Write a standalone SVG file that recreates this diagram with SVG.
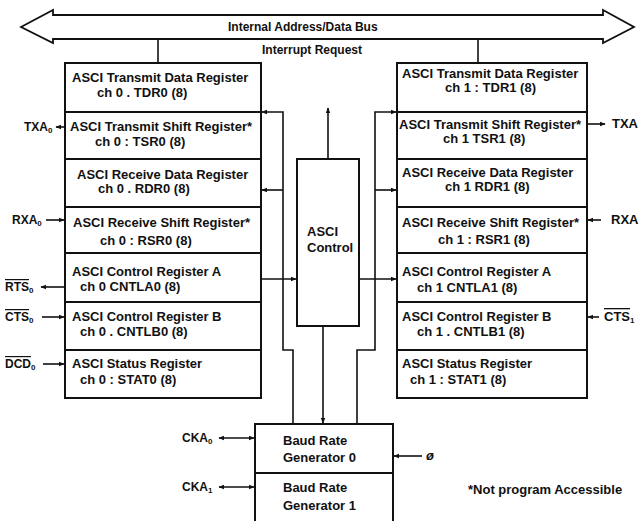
<svg xmlns="http://www.w3.org/2000/svg" width="640" height="521" viewBox="0 0 640 521">
<style>
.box{fill:#fff;stroke:#111;stroke-width:2}
.ln{fill:none;stroke:#111;stroke-width:1.6}
text{font-family:"Liberation Sans",Arial,sans-serif;font-weight:bold;font-size:13px;fill:#111}
.sm{font-size:12px}
.ov{text-decoration:overline}
</style>
<defs>
<marker id="ah" viewBox="0 0 10 10" refX="9" refY="5" markerWidth="6" markerHeight="6" markerUnits="userSpaceOnUse" orient="auto-start-reverse">
<path d="M0,1 L10,5 L0,9 z" fill="#111"/>
</marker>
</defs>
<rect x="0" y="0" width="640" height="521" fill="#fff"/>

<g id="bus">
<polygon points="21,27 53,10 53,15 603,15 603,10 634,27 603,43 603,39 53,39 53,43" fill="#fff" stroke="#111" stroke-width="1.8" stroke-linejoin="miter"/>
<text x="228" y="31" class="sm">Internal Address/Data Bus</text>
</g>
<g id="irq"><text x="262" y="54" class="sm">Interrupt Request</text></g>

<g id="connectors">
<path class="ln" d="M158 39 V63"/>
<path class="ln" d="M478 39 V63"/>
<path class="ln" d="M328 159 V108" marker-end="url(#ah)"/>
<path class="ln" d="M293 424 V350 H283 V112 H262" marker-end="url(#ah)"/>
<path class="ln" d="M283 190 H262" marker-end="url(#ah)"/>
<path class="ln" d="M357 424 V350 H375 V112 H396" marker-end="url(#ah)"/>
<path class="ln" d="M375 190 H396" marker-end="url(#ah)"/>
<path class="ln" d="M323 327 V423" marker-end="url(#ah)"/>
<path class="ln" d="M262 279 H296" marker-end="url(#ah)"/>
<path class="ln" d="M360 279 H396" marker-end="url(#ah)"/>
<path class="ln" d="M64 127 H56" marker-end="url(#ah)"/>
<path class="ln" d="M46 220 H64" marker-end="url(#ah)"/>
<path class="ln" d="M64 287 H41" marker-end="url(#ah)"/>
<path class="ln" d="M42 317 H64" marker-end="url(#ah)"/>
<path class="ln" d="M43 364 H64" marker-end="url(#ah)"/>
<path class="ln" d="M588 124 H605" marker-end="url(#ah)"/>
<path class="ln" d="M601 220 H588" marker-end="url(#ah)"/>
<path class="ln" d="M599 317 H588" marker-end="url(#ah)"/>
<path class="ln" d="M219 438 H254" marker-start="url(#ah)" marker-end="url(#ah)"/>
<path class="ln" d="M219 487 H254" marker-start="url(#ah)" marker-end="url(#ah)"/>
<path class="ln" d="M422 456 H394" marker-end="url(#ah)"/>
</g>

<g id="tdr0"><rect class="box" x="65" y="63" width="196" height="49"/><text x="72" y="82">ASCI Transmit Data Register</text><text x="97" y="97">ch 0 . TDR0 (8)</text></g>
<g id="tsr0"><rect class="box" x="65" y="112" width="196" height="47"/><text x="70" y="131">ASCI Transmit Shift Register*</text><text x="95" y="146">ch 0 : TSR0 (8)</text></g>
<g id="rdr0"><rect class="box" x="65" y="159" width="196" height="48"/><text x="77" y="179">ASCI Receive Data Register</text><text x="98" y="193">ch 0 . RDR0 (8)</text></g>
<g id="rsr0"><rect class="box" x="65" y="207" width="196" height="46"/><text x="73" y="227">ASCI Receive Shift Register*</text><text x="100" y="245">ch 0 : RSR0 (8)</text></g>
<g id="cntla0"><rect class="box" x="65" y="253" width="196" height="49"/><text x="72" y="276">ASCI Control Register A</text><text x="80" y="291">ch 0  CNTLA0 (8)</text></g>
<g id="cntlb0"><rect class="box" x="65" y="302" width="196" height="48"/><text x="72" y="321">ASCI Control Register B</text><text x="80" y="336">ch 0 . CNTLB0 (8)</text></g>
<g id="stat0"><rect class="box" x="65" y="350" width="196" height="48"/><text x="72" y="368">ASCI Status Register</text><text x="80" y="384">ch 0 : STAT0 (8)</text></g>

<g id="tdr1"><rect class="box" x="397" y="63" width="190" height="49"/><text x="402" y="78">ASCI Transmit Data Register</text><text x="445" y="92">ch 1 : TDR1 (8)</text></g>
<g id="tsr1"><rect class="box" x="397" y="112" width="190" height="47"/><text x="399" y="129">ASCI Transmit Shift Register*</text><text x="443" y="143">ch 1  TSR1 (8)</text></g>
<g id="rdr1"><rect class="box" x="397" y="159" width="190" height="48"/><text x="402" y="177">ASCI Receive Data Register</text><text x="445" y="191">ch 1  RDR1 (8)</text></g>
<g id="rsr1"><rect class="box" x="397" y="207" width="190" height="46"/><text x="402" y="227">ASCI Receive Shift Register*</text><text x="438" y="244">ch 1 : RSR1 (8)</text></g>
<g id="cntla1"><rect class="box" x="397" y="253" width="190" height="49"/><text x="402" y="276">ASCI Control Register A</text><text x="417" y="292">ch 1  CNTLA1 (8)</text></g>
<g id="cntlb1"><rect class="box" x="397" y="302" width="190" height="48"/><text x="402" y="321">ASCI Control Register B</text><text x="417" y="336">ch 1 . CNTLB1 (8)</text></g>
<g id="stat1"><rect class="box" x="397" y="350" width="190" height="48"/><text x="402" y="368">ASCI Status Register</text><text x="410" y="384">ch 1 : STAT1 (8)</text></g>

<g id="asci-control"><rect class="box" x="297" y="159" width="62" height="167"/><text x="307" y="236">ASCI</text><text x="307" y="252">Control</text></g>

<g id="brg0"><rect class="box" x="255" y="424" width="138" height="49"/><text x="283" y="445">Baud Rate</text><text x="283" y="462">Generator 0</text></g>
<g id="brg1"><rect class="box" x="255" y="473" width="138" height="60"/><text x="283" y="492">Baud Rate</text><text x="283" y="510">Generator 1</text></g>

<g id="labels">
<text x="24" y="131" class="sm">TXA<tspan font-size="8" dy="2">0</tspan></text>
<text x="12" y="224" class="sm">RXA<tspan font-size="8" dy="2">0</tspan></text>
<text x="5" y="291" class="sm"><tspan class="ov">RTS</tspan><tspan font-size="8" dy="2">0</tspan></text>
<text x="5" y="321" class="sm"><tspan class="ov">CTS</tspan><tspan font-size="8" dy="2">0</tspan></text>
<text x="5" y="368" class="sm"><tspan class="ov">DCD</tspan><tspan font-size="8" dy="2">0</tspan></text>
<text x="612" y="128">TXA</text>
<text x="611" y="224">RXA</text>
<text x="604" y="321"><tspan class="ov">CTS</tspan><tspan font-size="8" dy="2">1</tspan></text>
<text x="182" y="442" class="sm">CKA<tspan font-size="8" dy="2">0</tspan></text>
<text x="182" y="491" class="sm">CKA<tspan font-size="8" dy="2">1</tspan></text>
<text x="426" y="460" font-style="italic">ø</text>
<text x="468" y="494">*Not program Accessible</text>
</g>
</svg>
